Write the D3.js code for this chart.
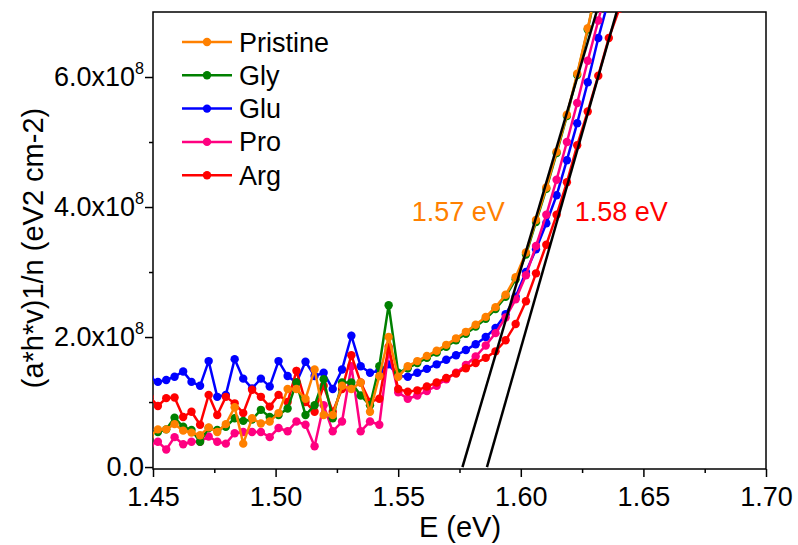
<!DOCTYPE html>
<html>
<head>
<meta charset="utf-8">
<script src="https://cdn.jsdelivr.net/npm/d3@7"></script>
<style>
  html, body { margin: 0; padding: 0; background: #fff; }
  svg { display: block; font-family: "Liberation Sans", Arial, sans-serif; }
</style>
</head>
<body>
<svg id="chart" width="798" height="545"></svg>
<script>
// Photon energy grid (eV)
const energy = [
  1.4486, 1.4520, 1.4554, 1.4588, 1.4623, 1.4657, 1.4692, 1.4727, 1.4762, 1.4797,
  1.4833, 1.4868, 1.4904, 1.4940, 1.4976, 1.5012, 1.5049, 1.5085, 1.5122, 1.5159,
  1.5196, 1.5233, 1.5271, 1.5309, 1.5347, 1.5385, 1.5423, 1.5461, 1.5500, 1.5539,
  1.5578, 1.5617, 1.5657, 1.5696, 1.5736, 1.5776, 1.5816, 1.5857, 1.5897, 1.5938,
  1.5979, 1.6021, 1.6062, 1.6104, 1.6146, 1.6188, 1.6230, 1.6273, 1.6316, 1.6359,
  1.6402, 1.6446
];

// Tauc values, in units of 1e8 eV2 cm-2
const pristine = [0.47, 0.58, 0.58, 0.66, 0.56, 0.53, 0.49, 0.61, 0.54, 0.66,
  0.92, 0.36, 0.75, 0.67, 0.70, 0.83, 1.20, 1.20, 1.05, 1.50,
  0.80, 0.80, 1.25, 1.20, 1.30, 0.85, 1.40, 2.00, 1.39, 1.55,
  1.63, 1.71, 1.79, 1.88, 1.98, 2.08, 2.19, 2.31, 2.46, 2.65,
  2.92, 3.30, 3.80, 4.30, 4.85, 5.42, 6.05, 6.75, 7.50];
const gly = [0.52, 0.54, 0.58, 0.76, 0.62, 0.57, 0.39, 0.60, 0.57, 0.62,
  0.75, 0.71, 0.73, 0.88, 0.77, 0.80, 0.90, 1.30, 0.80, 0.95,
  1.35, 0.75, 1.30, 1.30, 1.10, 0.95, 1.55, 2.49, 1.45, 1.52,
  1.60, 1.68, 1.76, 1.85, 1.95, 2.05, 2.16, 2.28, 2.43, 2.62,
  2.89, 3.27, 3.77, 4.28, 4.83, 5.40, 6.03, 6.73, 7.50];
const glu = [1.38, 1.31, 1.34, 1.39, 1.47, 1.31, 1.25, 1.63, 1.08, 1.11,
  1.66, 1.36, 1.21, 1.36, 1.24, 1.63, 1.40, 1.30, 1.62, 1.40,
  1.45, 1.20, 1.50, 2.02, 1.55, 1.45, 1.48, 1.58, 1.40, 1.39,
  1.45, 1.51, 1.58, 1.65, 1.72, 1.80, 1.89, 2.00, 2.14, 2.35,
  2.62, 3.00, 3.35, 3.75, 4.18, 4.72, 5.29, 5.92, 6.60, 7.20];
const pro = [0.33, 0.39, 0.27, 0.46, 0.35, 0.39, 0.39, 0.47, 0.39, 0.36,
  0.52, 0.54, 0.54, 0.54, 0.46, 0.60, 0.55, 0.70, 0.65, 0.32,
  0.95, 0.55, 0.70, 1.55, 0.55, 0.70, 0.65, 1.80, 1.15, 1.05,
  1.10, 1.17, 1.25, 1.35, 1.45, 1.57, 1.70, 1.87, 2.06, 2.30,
  2.58, 2.95, 3.40, 3.88, 4.42, 5.00, 5.60, 6.25, 6.87, 7.50];
const arg = [1.08, 0.94, 1.06, 1.07, 0.77, 0.85, 0.65, 1.11, 0.80, 1.08,
  0.98, 0.83, 1.19, 1.08, 0.93, 1.11, 1.00, 1.48, 1.00, 0.85,
  1.25, 0.85, 1.20, 1.72, 1.30, 1.00, 1.05, 1.85, 1.20, 1.16,
  1.18, 1.24, 1.30, 1.37, 1.44, 1.52, 1.60, 1.68, 1.78, 1.95,
  2.20, 2.55, 2.98, 3.42, 3.88, 4.38, 4.95, 5.47, 6.02, 6.60,
  7.05, 7.60];

const seriesNames = ["Pristine", "Gly", "Glu", "Pro", "Arg"];
const seriesColors = ["#FF8000", "#008000", "#0000FF", "#FF0080", "#FF0000"];
const seriesValues = [pristine, gly, glu, pro, arg];
// drawing order (first drawn sits underneath)
const drawOrder = [2, 3, 4, 1, 0];

// Linear fits of the absorption edge: [E, value] end points
const fitPristine = [[1.5762, 0], [1.6309, 7.0]];
const fitArg = [[1.5862, 0], [1.6391, 7.0]];
const fitLabels = [
  { text: "1.57 eV", color: "#FF8000", e: 1.5555, v: 3.93 },
  { text: "1.58 eV", color: "#FF0000", e: 1.6220, v: 3.93 }
];

const xTicks = [1.45, 1.50, 1.55, 1.60, 1.65, 1.70];
const yTicks = [0, 2, 4, 6];

const svg = d3.select("#chart");
const plotLeft = 153, plotRight = 766, plotTop = 12, plotBottom = 469;

const x = d3.scaleLinear().domain([1.45, 1.70]).range([plotLeft, plotRight]);
const y = d3.scaleLinear().domain([-0.03, 7.0]).range([plotBottom, plotTop]);

svg.append("defs").append("clipPath").attr("id", "plot-clip")
  .append("rect").attr("x", plotLeft).attr("y", plotTop)
  .attr("width", plotRight - plotLeft).attr("height", plotBottom - plotTop);

const fontSize = 27;
const titleSize = 29;

// Frame
svg.append("rect").attr("x", plotLeft).attr("y", plotTop)
  .attr("width", plotRight - plotLeft).attr("height", plotBottom - plotTop)
  .attr("fill", "none").attr("stroke", "#000").attr("stroke-width", 1.5);

// Bottom axis
const xAxis = svg.append("g").attr("transform", `translate(0,${plotBottom})`)
  .call(d3.axisBottom(x).tickValues(xTicks).tickFormat(d3.format(".2f"))
    .tickSize(8).tickPadding(10));
xAxis.select(".domain").remove();
xAxis.selectAll("line").attr("stroke-width", 1.5);
xAxis.selectAll("text").attr("font-size", fontSize).attr("fill", "#000")
  .style("font-family", "Liberation Sans, Arial, sans-serif");
svg.append("g").attr("transform", `translate(0,${plotBottom})`)
  .call(d3.axisBottom(x).tickValues(d3.range(1.475, 1.70, 0.05)).tickFormat("").tickSize(4))
  .call(g => g.select(".domain").remove())
  .selectAll("line").attr("stroke-width", 1.5);

// Left axis
const yAxis = svg.append("g").attr("transform", `translate(${plotLeft},0)`)
  .call(d3.axisLeft(y).tickValues(yTicks).tickFormat("").tickSize(8));
yAxis.select(".domain").remove();
yAxis.selectAll("line").attr("stroke-width", 1.5);
svg.append("g").attr("transform", `translate(${plotLeft},0)`)
  .call(d3.axisLeft(y).tickValues([1, 3, 5]).tickFormat("").tickSize(4))
  .call(g => g.select(".domain").remove())
  .selectAll("line").attr("stroke-width", 1.5);

yTicks.forEach(v => {
  const t = svg.append("text").attr("x", plotLeft - 9).attr("y", y(v) + 9)
    .attr("text-anchor", "end").attr("font-size", fontSize).attr("fill", "#000");
  if (v === 0) {
    t.text("0.0");
  } else {
    t.append("tspan").text(v.toFixed(1) + "x10");
    t.append("tspan").attr("font-size", fontSize * 0.6).attr("dy", -12).text("8");
  }
});

// Axis titles
svg.append("text").attr("x", 460).attr("y", 537)
  .attr("text-anchor", "middle").attr("font-size", titleSize).text("E (eV)");
svg.append("text")
  .attr("transform", `translate(43,248) rotate(-90)`)
  .attr("text-anchor", "middle").attr("font-size", titleSize)
  .text("(a*h*v)1/n (eV2 cm-2)");

// Data
const plot = svg.append("g").attr("clip-path", "url(#plot-clip)");
const line = d3.line().x(d => x(d[0])).y(d => y(d[1]));

drawOrder.forEach(i => {
  const pts = seriesValues[i].map((v, k) => [energy[k], v]);
  const g = plot.append("g");
  g.append("path").datum(pts).attr("d", line)
    .attr("fill", "none").attr("stroke", seriesColors[i]).attr("stroke-width", 2.5);
  g.selectAll("circle").data(pts).join("circle")
    .attr("cx", d => x(d[0])).attr("cy", d => y(d[1])).attr("r", 4.2)
    .attr("fill", seriesColors[i]);
});

// Fit lines
[fitPristine, fitArg].forEach(f => {
  plot.append("path").datum(f).attr("d", line)
    .attr("fill", "none").attr("stroke", "#000").attr("stroke-width", 2.5);
});

fitLabels.forEach(l => {
  svg.append("text").attr("x", x(l.e)).attr("y", y(l.v) + 9)
    .attr("font-size", fontSize).attr("fill", l.color).text(l.text);
});

// Legend
const legend = svg.append("g");
seriesNames.forEach((name, i) => {
  const cy = 42 + i * 33.3;
  legend.append("line").attr("x1", 182).attr("x2", 232).attr("y1", cy).attr("y2", cy)
    .attr("stroke", seriesColors[i]).attr("stroke-width", 2.5);
  legend.append("circle").attr("cx", 207).attr("cy", cy).attr("r", 4.2)
    .attr("fill", seriesColors[i]);
  legend.append("text").attr("x", 239).attr("y", cy + 9.5)
    .attr("font-size", fontSize).attr("fill", "#000").text(name);
});
</script>
</body>
</html>
